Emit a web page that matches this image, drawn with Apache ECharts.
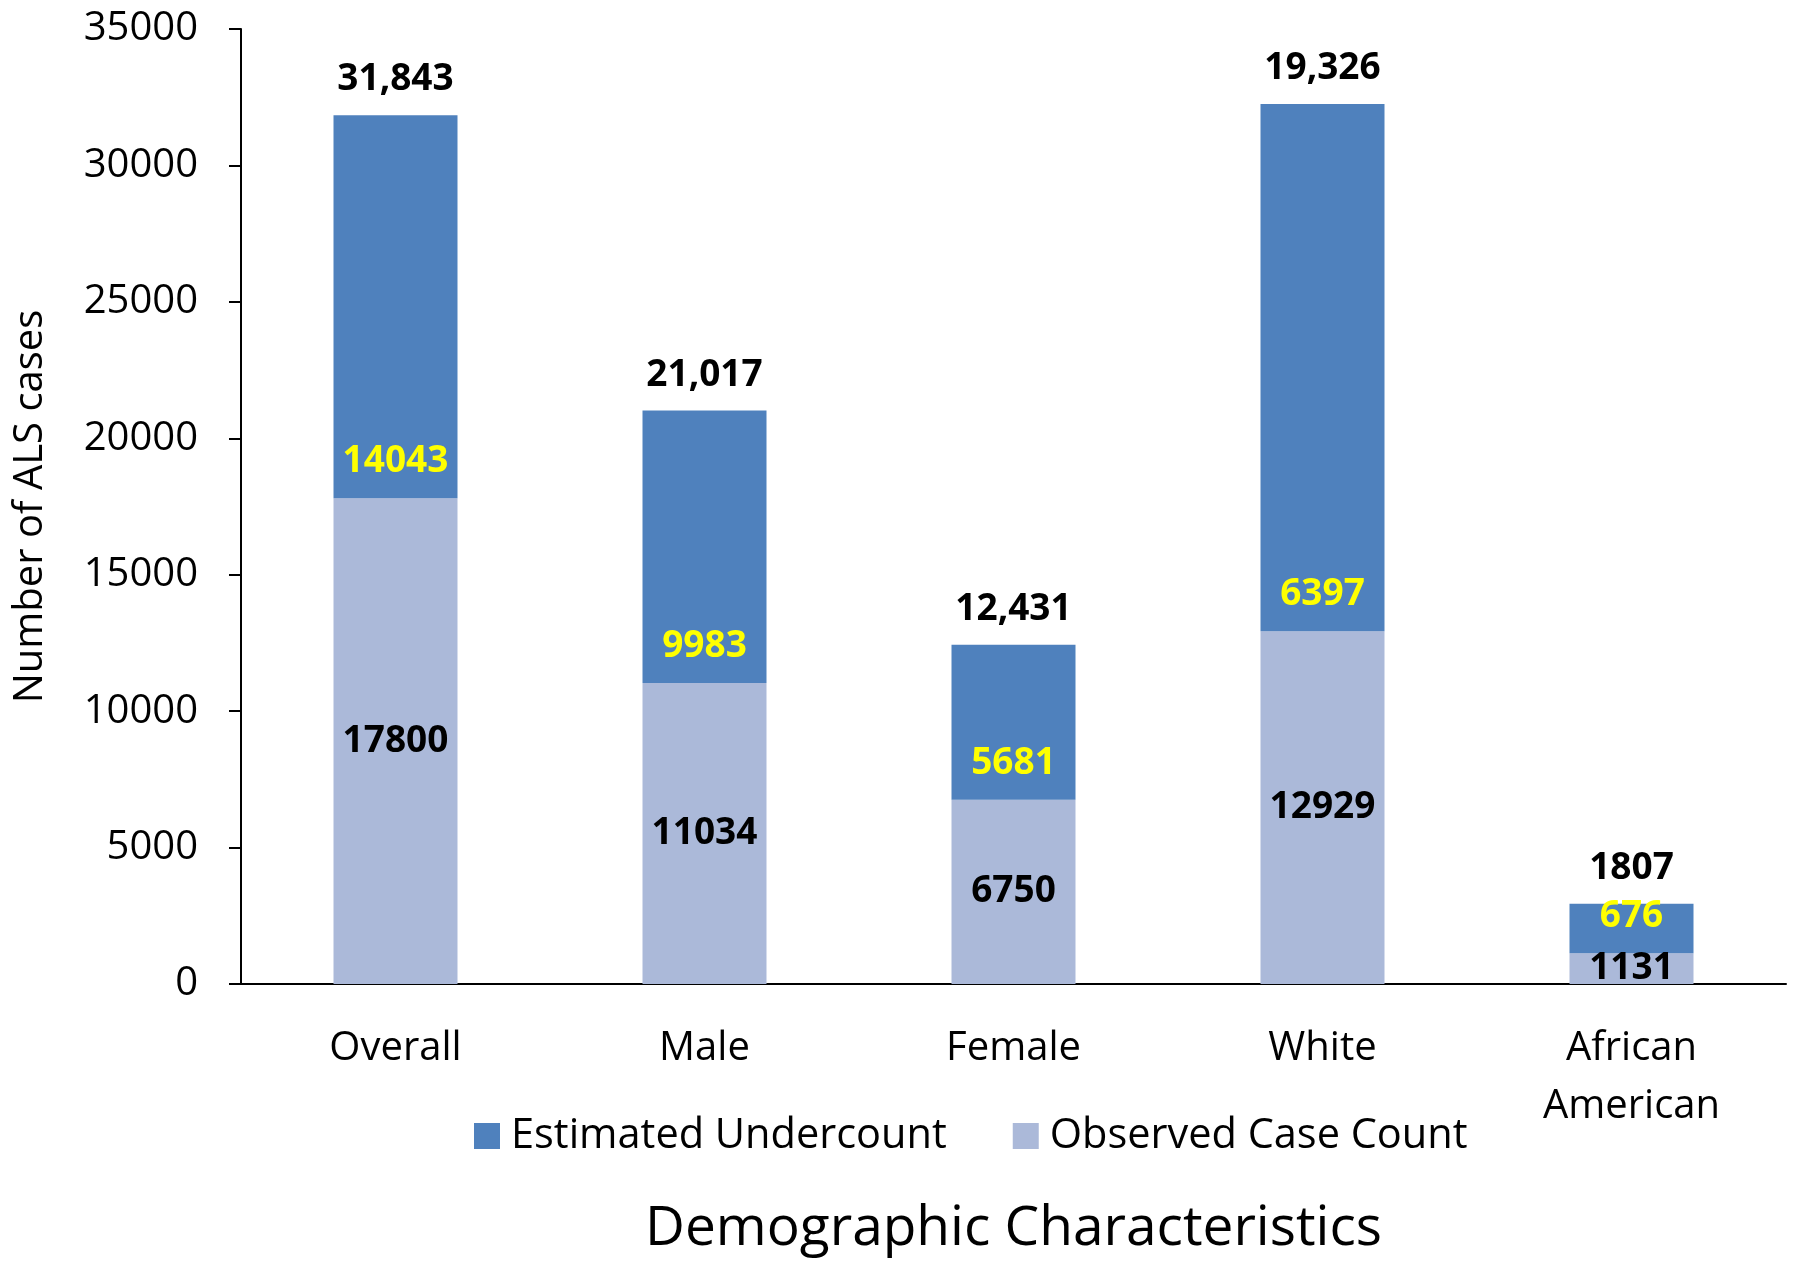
<!DOCTYPE html>
<html>
<head>
    <meta charset="utf-8"/>
    <script src="https://cdn.jsdelivr.net/npm/echarts@6/dist/echarts.min.js"></script>
    <style>
        html, body { margin: 0; padding: 0; background: #fff; }
        #main { width: 1800px; height: 1267px; }
    </style>
</head>
<body>
<div id="main"></div>
<script type="text/javascript">
    // categories and values
    var categories = ['Overall', 'Male', 'Female', 'White', 'African\nAmerican'];
    var observed = [17800, 11034, 6750, 12929, 1131];
    // height of the dark segment as drawn in the original figure
    var undercountDrawn = [14043, 9983, 5681, 19326, 1807];
    // numbers printed on the dark segment
    var undercountLabels = [14043, 9983, 5681, 6397, 676];
    // numbers printed above each bar
    var totalLabels = ['31,843', '21,017', '12,431', '19,326', '1807'];
    var yTicks = { min: 0, max: 35000, interval: 5000 };

    var FONT = '"Open Sans", "Noto Sans", sans-serif';

    var myChart = echarts.init(document.getElementById('main'));

    var option = {
        animation: false,
        textStyle: { fontFamily: FONT },
        grid: { left: 241, right: 14, top: 29, bottom: 283, outerBoundsMode: 'none', containLabel: false },
        legend: {
            data: ['Estimated Undercount', 'Observed Case Count'],
            left: 469,
            top: 1110,
            itemWidth: 26,
            itemHeight: 26,
            itemGap: 66,
            textStyle: { fontFamily: FONT, fontSize: 41.5, color: '#000', padding: [0, 0, 0, 6] },
            icon: 'rect'
        },
        xAxis: {
            type: 'category',
            data: categories,
            name: 'Demographic Characteristics',
            nameLocation: 'middle',
            nameGap: 218,
            nameMoveOverlap: false,
            nameTextStyle: { fontFamily: FONT, fontSize: 55, color: '#000' },
            axisLine: { lineStyle: { color: '#000', width: 2 } },
            axisTick: { show: false },
            axisLabel: { fontFamily: FONT, fontSize: 40, color: '#000', margin: 36, lineHeight: 58 }
        },
        yAxis: {
            type: 'value',
            min: yTicks.min,
            max: yTicks.max,
            interval: yTicks.interval,
            name: 'Number of ALS cases',
            nameLocation: 'middle',
            nameGap: 190,
            nameMoveOverlap: false,
            nameTextStyle: { fontFamily: FONT, fontSize: 40, color: '#000' },
            axisLine: { show: true, lineStyle: { color: '#000', width: 2 } },
            axisTick: { show: true, length: 12, lineStyle: { color: '#000', width: 2 } },
            splitLine: { show: false },
            axisLabel: {
                fontFamily: FONT, fontSize: 40, color: '#000', margin: 43,
                formatter: function (v) { return String(v); }
            }
        },
        series: [{
            name: 'Observed Case Count',
            type: 'bar',
            stack: 'als',
            barWidth: 124,
            data: observed,
            itemStyle: { color: '#abb9d9' },
            label: {
                show: true,
                position: 'inside',
                fontFamily: FONT,
                fontSize: 37,
                fontWeight: 'bold',
                color: '#000'
            }
        }, {
            name: 'Estimated Undercount',
            type: 'bar',
            stack: 'als',
            barWidth: 124,
            data: undercountDrawn,
            itemStyle: { color: '#4f81bd' },
            label: {
                show: true,
                position: 'insideBottom',
                distance: 18,
                fontFamily: FONT,
                fontSize: 37,
                fontWeight: 'bold',
                color: '#ffff00',
                formatter: function (p) { return undercountLabels[p.dataIndex]; }
            }
        }, {
            // zero-height cap, only carries the total label
            name: 'total',
            type: 'bar',
            stack: 'als',
            barWidth: 124,
            data: categories.map(function () { return 0; }),
            itemStyle: { color: 'transparent' },
            label: {
                show: true,
                position: 'top',
                distance: 17,
                fontFamily: FONT,
                fontSize: 37,
                fontWeight: 'bold',
                color: '#000',
                formatter: function (p) { return totalLabels[p.dataIndex]; }
            }
        }]
    };
    myChart.setOption(option);
</script>
</body>
</html>
